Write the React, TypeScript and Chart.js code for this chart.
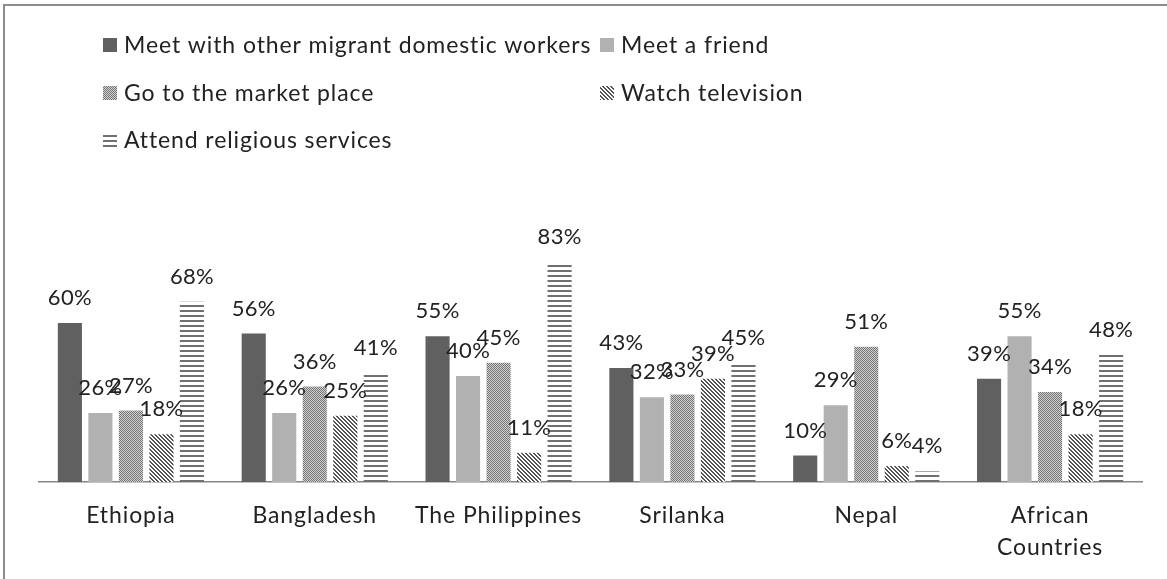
import React, { useEffect, useRef } from 'react';
import { Chart, registerables } from 'chart.js';

Chart.register(...registerables);

// ---- data ----
const categories: (string | string[])[] = [
  'Ethiopia',
  'Bangladesh',
  'The Philippines',
  'Srilanka',
  'Nepal',
  ['African', 'Countries'],
];
const seriesNames = [
  'Meet with other migrant domestic workers',
  'Meet a friend',
  'Go to the market place',
  'Watch television',
  'Attend religious services',
];
const meetMigrantWorkers = [0.6, 0.56, 0.55, 0.43, 0.1, 0.39];
const meetFriend = [0.26, 0.26, 0.4, 0.32, 0.29, 0.55];
const marketPlace = [0.27, 0.36, 0.45, 0.33, 0.51, 0.34];
const watchTelevision = [0.18, 0.25, 0.11, 0.39, 0.06, 0.18];
const religiousServices = [0.68, 0.41, 0.83, 0.45, 0.04, 0.48];

const FONT = 'Lato, "Open Sans", sans-serif';
const TEXT = '#222222';
const SPACING = '0.9px';
const LABEL_SPACING = '0.3px';

function makeTile(w: number, h: number, draw: (c: CanvasRenderingContext2D) => void) {
  const t = document.createElement('canvas');
  t.width = w;
  t.height = h;
  const c = t.getContext('2d')!;
  draw(c);
  return t;
}

export default function App() {
  const ref = useRef<HTMLCanvasElement | null>(null);

  useEffect(() => {
    const canvas = ref.current!;
    const ctx = canvas.getContext('2d')!;

    const dotTile = makeTile(2, 2, (c) => {
      c.fillStyle = '#d2d2d2';
      c.fillRect(0, 0, 2, 2);
      c.fillStyle = '#747474';
      c.fillRect(0, 0, 1, 1);
      c.fillRect(1, 1, 1, 1);
    });
    const diagTile = makeTile(4, 4, (c) => {
      c.fillStyle = '#ffffff';
      c.fillRect(0, 0, 4, 4);
      c.fillStyle = '#555555';
      for (let y = 0; y < 4; y++) {
        for (let x = 0; x < 4; x++) {
          const d = (((x - y) % 4) + 4) % 4;
          if (d === 0 || d === 1) c.fillRect(x, y, 1, 1);
        }
      }
    });
    const hLineTile = makeTile(5, 5, (c) => {
      c.fillStyle = '#ffffff';
      c.fillRect(0, 0, 5, 5);
      c.fillStyle = '#707070';
      c.fillRect(0, 0, 5, 2);
    });

    const fills: (string | CanvasPattern)[] = [
      '#606060',
      '#b1b1b1',
      ctx.createPattern(dotTile, 'repeat')!,
      ctx.createPattern(diagTile, 'repeat')!,
      ctx.createPattern(hLineTile, 'repeat')!,
    ];
    const values = [meetMigrantWorkers, meetFriend, marketPlace, watchTelevision, religiousServices];

    const spacingPlugin = {
      id: 'spacing',
      beforeDraw(chart: any) {
        (chart.ctx as any).letterSpacing = SPACING;
      },
    };

    const labelsPlugin = {
      id: 'valueLabels',
      afterDatasetsDraw(chart: any) {
        const c = chart.ctx;
        c.save();
        (c as any).letterSpacing = LABEL_SPACING;
        c.font = `22px ${FONT}`;
        c.fillStyle = TEXT;
        c.textAlign = 'center';
        c.textBaseline = 'middle';
        chart.data.datasets.forEach((ds: any, i: number) => {
          const meta = chart.getDatasetMeta(i);
          meta.data.forEach((bar: any, j: number) => {
            const v = ds.data[j] as number;
            c.fillText(`${Math.round(v * 100)}%`, bar.x, bar.y - 25);
          });
        });
        c.restore();
      },
    };

    const legendPlugin = {
      id: 'customLegend',
      afterDraw(chart: any) {
        const c = chart.ctx;
        const colX = [103, 600];
        const rowY = [45, 93, 140];
        const slots = [
          [0, 0],
          [1, 0],
          [0, 1],
          [1, 1],
          [0, 2],
        ];
        c.save();
        (c as any).letterSpacing = SPACING;
        c.font = `23px ${FONT}`;
        c.textBaseline = 'middle';
        c.textAlign = 'left';
        chart.data.datasets.forEach((ds: any, i: number) => {
          const [col, row] = slots[i];
          const x = colX[col];
          const y = rowY[row];
          c.fillStyle = ds.backgroundColor;
          c.fillRect(x, y - 7, 14, 14);
          c.fillStyle = TEXT;
          c.fillText(ds.label, x + 21, y + 1);
        });
        c.restore();
      },
    };

    const chart = new Chart(canvas, {
      type: 'bar',
      data: {
        labels: categories,
        datasets: seriesNames.map((name, i) => ({
          label: name,
          data: values[i],
          backgroundColor: fills[i] as any,
          borderWidth: 0,
          barPercentage: 0.79,
          categoryPercentage: 0.83,
        })),
      },
      options: {
        animation: false,
        responsive: false,
        devicePixelRatio: 1,
        layout: { padding: { left: 39, right: 25, top: 217, bottom: 0 } },
        plugins: {
          legend: { display: false },
          title: { display: false },
          tooltip: { enabled: false },
        },
        scales: {
          x: {
            grid: { display: false, drawTicks: false },
            border: { display: true, color: '#868686', width: 1.5 },
            ticks: {
              padding: 18,
              color: TEXT,
              font: { family: FONT, size: 23, lineHeight: 1.38 },
              maxRotation: 0,
              autoSkip: false,
            },
            afterFit(scale: any) {
              scale.height = 97;
            },
          },
          y: {
            display: false,
            min: 0,
            max: 1,
          },
        },
      },
      plugins: [spacingPlugin, labelsPlugin, legendPlugin],
    });

    return () => chart.destroy();
  }, []);

  return (
    <div style={{ position: 'absolute', left: 0, top: 0, width: 1167, height: 579, background: '#ffffff' }}>
      <canvas ref={ref} width={1167} height={579} style={{ display: 'block', width: 1167, height: 579 }} />
      <div
        style={{
          position: 'absolute',
          left: 3,
          top: 4,
          width: 1164,
          height: 575,
          borderTop: '2px solid #8c8c8c',
          borderLeft: '2px solid #8c8c8c',
          boxSizing: 'border-box',
          pointerEvents: 'none',
        }}
      />
    </div>
  );
}
